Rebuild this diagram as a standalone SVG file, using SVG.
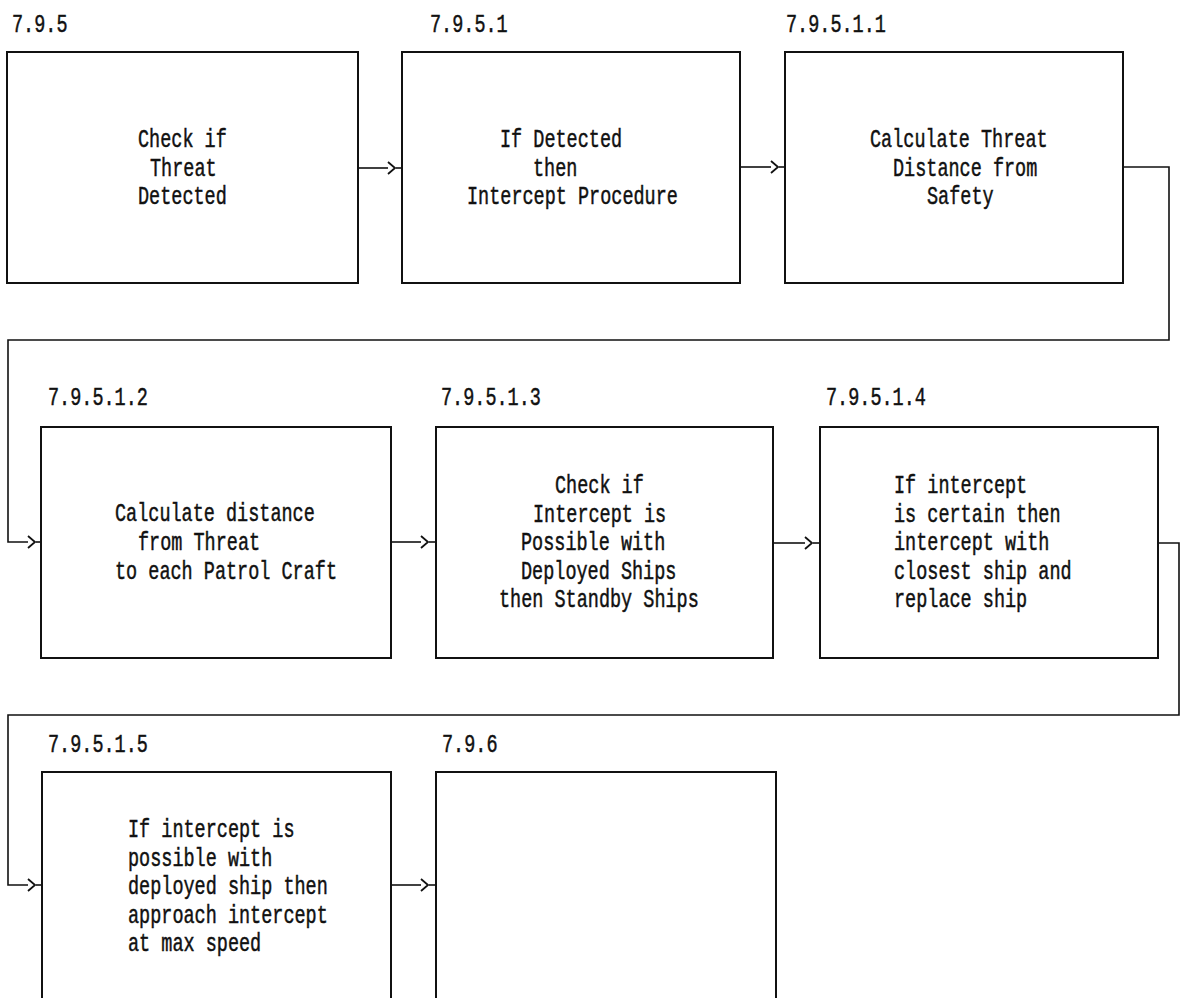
<svg xmlns="http://www.w3.org/2000/svg" width="1181" height="998" viewBox="0 0 1181 998">
<style>
  .box{fill:#fff;stroke:#111;stroke-width:2}
  .conn{fill:none;stroke:#111;stroke-width:1.6}
  text{font-family:"Liberation Mono","DejaVu Sans Mono",monospace;font-size:26px;fill:#111;stroke:#111;stroke-width:0.5}
</style>
<defs>
  <marker id="chev" markerUnits="userSpaceOnUse" markerWidth="12" markerHeight="16" refX="0" refY="7" orient="auto" overflow="visible">
    <path d="M0,1 L7,7 L0,13" fill="none" stroke="#111" stroke-width="1.8"/>
  </marker>
</defs>
<rect width="1181" height="998" fill="#fff"/>

<g id="connectors">
  <path class="conn" d="M358,168 H388" marker-end="url(#chev)"/>
  <path class="conn" d="M396,168 H402"/>
  <path class="conn" d="M740,167 H771" marker-end="url(#chev)"/>
  <path class="conn" d="M779,167 H785"/>
  <path class="conn" d="M1123,167 H1169 V340 H8 V542 H28" marker-end="url(#chev)"/>
  <path class="conn" d="M36,542 H41"/>
  <path class="conn" d="M391,542 H421" marker-end="url(#chev)"/>
  <path class="conn" d="M429,542 H436"/>
  <path class="conn" d="M773,543 H805" marker-end="url(#chev)"/>
  <path class="conn" d="M813,543 H820"/>
  <path class="conn" d="M1158,543 H1179 V715 H8 V885 H28" marker-end="url(#chev)"/>
  <path class="conn" d="M36,885 H42"/>
  <path class="conn" d="M391,885 H421" marker-end="url(#chev)"/>
  <path class="conn" d="M429,885 H436"/>
</g>

<g id="n795">
  <text x="12" y="32" textLength="55.5" lengthAdjust="spacingAndGlyphs">7.9.5</text>
  <rect class="box" x="7" y="52" width="351" height="231"/>
  <text x="138" y="147" textLength="88.8" lengthAdjust="spacingAndGlyphs">Check if</text>
  <text x="150" y="175.5" textLength="66.6" lengthAdjust="spacingAndGlyphs">Threat</text>
  <text x="138" y="204" textLength="88.8" lengthAdjust="spacingAndGlyphs">Detected</text>
</g>

<g id="n7951">
  <text x="430" y="32" textLength="77.7" lengthAdjust="spacingAndGlyphs">7.9.5.1</text>
  <rect class="box" x="402" y="52" width="338" height="231"/>
  <text x="500" y="147" textLength="122.1" lengthAdjust="spacingAndGlyphs">If Detected</text>
  <text x="533" y="175.5" textLength="44.4" lengthAdjust="spacingAndGlyphs">then</text>
  <text x="467" y="204" textLength="210.9" lengthAdjust="spacingAndGlyphs">Intercept Procedure</text>
</g>

<g id="n79511">
  <text x="786" y="32" textLength="99.9" lengthAdjust="spacingAndGlyphs">7.9.5.1.1</text>
  <rect class="box" x="785" y="52" width="338" height="231"/>
  <text x="870" y="147" textLength="177.6" lengthAdjust="spacingAndGlyphs">Calculate Threat</text>
  <text x="893" y="175.5" textLength="144.3" lengthAdjust="spacingAndGlyphs">Distance from</text>
  <text x="927" y="204" textLength="66.6" lengthAdjust="spacingAndGlyphs">Safety</text>
</g>

<g id="n79512">
  <text x="48" y="405" textLength="99.9" lengthAdjust="spacingAndGlyphs">7.9.5.1.2</text>
  <rect class="box" x="41" y="427" width="350" height="231"/>
  <text x="115" y="521" textLength="199.8" lengthAdjust="spacingAndGlyphs">Calculate distance</text>
  <text x="138" y="550" textLength="122.1" lengthAdjust="spacingAndGlyphs">from Threat</text>
  <text x="115" y="579" textLength="222" lengthAdjust="spacingAndGlyphs">to each Patrol Craft</text>
</g>

<g id="n79513">
  <text x="441" y="405" textLength="99.9" lengthAdjust="spacingAndGlyphs">7.9.5.1.3</text>
  <rect class="box" x="436" y="427" width="337" height="231"/>
  <text x="555" y="493" textLength="88.8" lengthAdjust="spacingAndGlyphs">Check if</text>
  <text x="533" y="521.5" textLength="133.2" lengthAdjust="spacingAndGlyphs">Intercept is</text>
  <text x="521" y="550" textLength="144.3" lengthAdjust="spacingAndGlyphs">Possible with</text>
  <text x="521" y="578.5" textLength="155.4" lengthAdjust="spacingAndGlyphs">Deployed Ships</text>
  <text x="499" y="607" textLength="199.8" lengthAdjust="spacingAndGlyphs">then Standby Ships</text>
</g>

<g id="n79514">
  <text x="826" y="405" textLength="99.9" lengthAdjust="spacingAndGlyphs">7.9.5.1.4</text>
  <rect class="box" x="820" y="427" width="338" height="231"/>
  <text x="894" y="493" textLength="133.2" lengthAdjust="spacingAndGlyphs">If intercept</text>
  <text x="894" y="521.5" textLength="166.5" lengthAdjust="spacingAndGlyphs">is certain then</text>
  <text x="894" y="550" textLength="155.4" lengthAdjust="spacingAndGlyphs">intercept with</text>
  <text x="894" y="578.5" textLength="177.6" lengthAdjust="spacingAndGlyphs">closest ship and</text>
  <text x="894" y="607" textLength="133.2" lengthAdjust="spacingAndGlyphs">replace ship</text>
</g>

<g id="n79515">
  <text x="48" y="752" textLength="99.9" lengthAdjust="spacingAndGlyphs">7.9.5.1.5</text>
  <rect class="box" x="42" y="772" width="349" height="240"/>
  <text x="128" y="837" textLength="166.5" lengthAdjust="spacingAndGlyphs">If intercept is</text>
  <text x="128" y="865.5" textLength="144.3" lengthAdjust="spacingAndGlyphs">possible with</text>
  <text x="128" y="894" textLength="199.8" lengthAdjust="spacingAndGlyphs">deployed ship then</text>
  <text x="128" y="922.5" textLength="199.8" lengthAdjust="spacingAndGlyphs">approach intercept</text>
  <text x="128" y="951" textLength="133.2" lengthAdjust="spacingAndGlyphs">at max speed</text>
</g>

<g id="n796">
  <text x="442" y="752" textLength="55.5" lengthAdjust="spacingAndGlyphs">7.9.6</text>
  <rect class="box" x="436" y="772" width="340" height="240"/>
</g>
</svg>
